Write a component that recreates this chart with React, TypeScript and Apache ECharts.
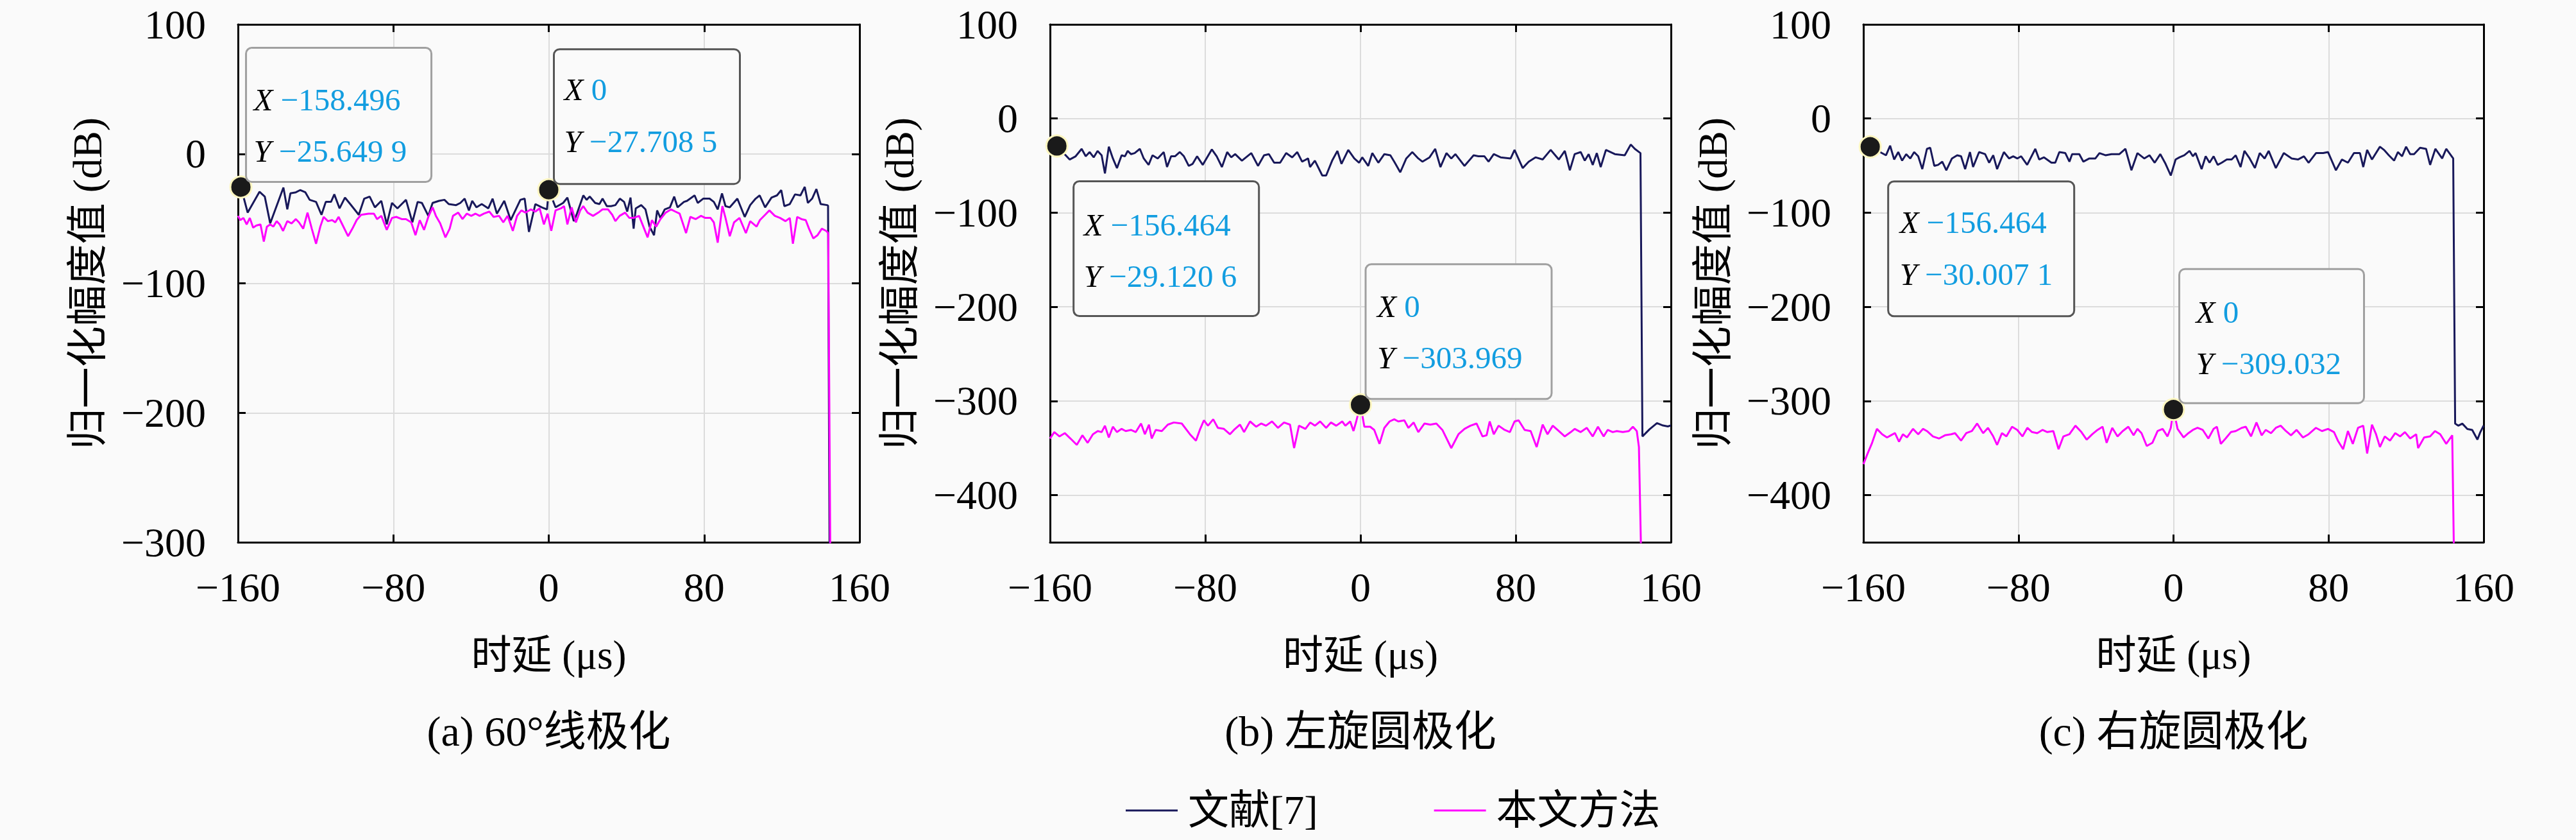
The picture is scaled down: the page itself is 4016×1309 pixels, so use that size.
import { useEffect, useRef } from "react";
import * as echarts from "echarts";

const SERIF = '"Liberation Serif", "Noto Sans CJK SC", serif';
const NAVY = "#18185a";
const MAGENTA = "#ff00ff";
const TIP_BLUE = "#129de0";

const seriesNames = ["文献[7]", "本文方法"];
const panelTitles = ["(a) 60°线极化", "(b) 左旋圆极化", "(c) 右旋圆极化"];
const yLabel = "归一化幅度值 (dB)";
const xLabel = "时延 (μs)";
const xRange = [-160, 160];
const xStep = 80;
const yMaxes = [100, 100, 100];
const yMins = [-300, -450, -450];

// (a) 60° linear polarisation: [delay μs, dB]
const refA: [number, number][] = [
  [-158.496, -25.6499], [-155.0, -45.4], [-148.9, -29.3], [-146.2, -33.0], [-143.4, -53.7], [-136.6, -26.0],
  [-134.6, -42.9], [-133.0, -30.5], [-130.2, -29.7], [-128.0, -28.0], [-125.3, -29.7], [-123.1, -35.5],
  [-119.8, -37.1], [-117.0, -47.1], [-114.8, -37.1], [-112.1, -37.1], [-110.4, -31.3], [-107.7, -42.1],
  [-104.9, -33.8], [-102.2, -38.8], [-97.8, -47.1], [-95.0, -34.6], [-92.2, -33.0], [-89.5, -41.3],
  [-86.2, -36.3], [-83.4, -54.5], [-80.7, -37.9], [-77.9, -42.1], [-75.7, -38.8], [-73.5, -35.5],
  [-70.2, -52.9], [-67.5, -37.1], [-65.3, -37.9], [-62.0, -47.9], [-59.8, -37.9], [-56.5, -36.3],
  [-53.7, -35.5], [-51.5, -38.8], [-47.7, -39.6], [-45.5, -37.9], [-43.3, -34.6], [-41.1, -43.7],
  [-39.4, -36.3], [-37.2, -41.3], [-34.5, -38.8], [-31.1, -42.1], [-28.9, -34.6], [-26.7, -46.2],
  [-22.9, -36.3], [-19.6, -51.2], [-14.6, -35.5], [-12.4, -34.6], [-10.2, -60.3], [-6.9, -38.8],
  [-3.6, -41.3], [-0.9, -42.9], [0, -27.7085], [3.5, -41.3], [7.4, -37.9], [9.6, -33.8], [12.9, -52.0],
  [14.5, -46.2], [17.8, -32.1], [19.5, -35.5], [21.1, -33.0], [23.9, -37.9], [26.1, -38.8], [27.7, -34.6],
  [29.9, -40.4], [32.1, -40.4], [34.3, -39.6], [36.6, -34.6], [38.8, -37.1], [40.4, -44.6], [42.1, -33.8],
  [43.7, -57.8], [44.8, -42.1], [47.6, -39.6], [49.8, -42.9], [51.9, -56.2], [54.2, -62.8], [55.8, -43.7],
  [57.5, -49.5], [59.7, -42.9], [62.4, -41.3], [64.6, -33.0], [66.3, -41.3], [69.6, -37.1], [71.2, -36.3],
  [75.1, -32.1], [76.7, -37.9], [79.5, -34.6], [82.8, -34.6], [85.0, -37.1], [87.0, -42.9], [89.2, -30.5],
  [91.0, -40.4], [93.2, -41.3], [97.1, -34.6], [100.9, -48.7], [103.7, -39.6], [106.5, -34.6], [108.6, -32.1],
  [111.4, -41.3], [114.7, -33.8], [117.5, -32.1], [119.7, -28.0], [121.3, -40.4], [124.1, -38.8], [126.8, -31.3],
  [129.6, -32.1], [131.8, -25.5], [133.4, -37.9], [135.6, -34.6], [137.8, -27.2], [140.0, -38.8], [143.3, -39.6],
  [143.8, -40.0], [144.6, -320],
];
const oursA: [number, number][] = [
  [-160, -47.9], [-158.8, -51.2], [-157.2, -49.5], [-155.5, -54.5], [-153.9, -49.5], [-152.2, -57.0],
  [-150.6, -55.4], [-148.4, -54.5], [-146.7, -67.8], [-145.1, -56.2], [-143.4, -54.5], [-141.8, -56.2],
  [-140.1, -52.0], [-138.5, -54.5], [-136.8, -59.5], [-134.6, -52.0], [-132.4, -53.7], [-130.2, -50.4],
  [-128.6, -52.9], [-126.4, -57.8], [-124.2, -45.4], [-122.0, -57.8], [-119.8, -69.4], [-117.6, -56.2],
  [-115.9, -48.7], [-113.7, -52.0], [-111.5, -51.2], [-109.9, -52.9], [-108.2, -48.7], [-106.0, -55.4],
  [-103.3, -63.6], [-101.1, -57.8], [-98.9, -51.2], [-96.6, -47.1], [-92.8, -46.2], [-90.0, -46.2],
  [-88.4, -50.4], [-86.2, -47.9], [-83.4, -58.7], [-80.7, -49.5], [-78.5, -48.7], [-75.7, -50.4],
  [-73.5, -50.4], [-70.8, -52.9], [-68.6, -62.8], [-66.4, -51.2], [-64.2, -58.7], [-62.0, -48.7],
  [-59.8, -41.3], [-58.1, -47.9], [-55.9, -53.7], [-53.2, -64.5], [-51.0, -57.8], [-49.3, -47.9],
  [-46.6, -45.4], [-44.4, -50.4], [-42.2, -46.2], [-39.9, -47.9], [-37.7, -46.2], [-35.6, -47.9],
  [-33.4, -46.2], [-30.6, -44.6], [-28.4, -48.7], [-25.6, -47.9], [-23.4, -52.9], [-21.2, -47.9],
  [-18.5, -59.5], [-16.3, -47.9], [-14.1, -43.7], [-11.9, -45.4], [-9.2, -42.9], [-6.9, -44.6],
  [-4.7, -42.1], [-2.5, -54.5], [-0.6, -46.2], [1.3, -59.5], [3.5, -43.7], [6.3, -42.1], [7.9, -40.4],
  [9.6, -54.5], [11.8, -41.3], [14.0, -52.9], [16.2, -43.7], [17.8, -40.4], [20.0, -45.4], [22.8, -47.9],
  [25.5, -45.4], [27.7, -42.9], [30.5, -42.9], [32.7, -47.1], [34.3, -52.0], [36.5, -47.9], [39.3, -45.4],
  [41.5, -49.5], [43.7, -49.5], [46.5, -47.9], [48.7, -56.2], [50.9, -64.5], [53.1, -51.2], [55.3, -56.2],
  [57.5, -50.4], [60.2, -45.4], [63.0, -42.9], [65.2, -44.6], [67.4, -46.2], [70.7, -61.2], [72.9, -48.7],
  [75.6, -50.4], [78.4, -47.9], [80.6, -49.5], [83.3, -49.5], [85.0, -52.9], [87.0, -68.6], [89.4, -40.4],
  [91.0, -49.5], [93.2, -63.6], [95.4, -52.9], [98.2, -49.5], [101.5, -61.2], [103.7, -52.0], [107.0, -56.2],
  [108.7, -51.2], [111.4, -47.1], [113.6, -43.7], [116.4, -47.9], [119.1, -49.5], [121.9, -52.0],
  [124.1, -49.5], [125.7, -69.4], [127.9, -48.7], [130.1, -50.4], [132.3, -51.2], [134.0, -57.8],
  [136.2, -65.3], [138.4, -62.8], [140.6, -57.8], [142.8, -59.5], [143.9, -61.2], [145.0, -320],
];

// (b) left-hand circular polarisation
const refB: [number, number][] = [
  [-156.464, -29.1206], [-149.9, -43.5], [-146.8, -40.1], [-143.7, -32.2], [-141.6, -40.1], [-139.6, -35.6],
  [-137.5, -41.2], [-135.5, -34.4], [-133.4, -39.0], [-131.7, -58.3], [-129.7, -29.9], [-127.6, -42.4],
  [-125.5, -52.6], [-123.1, -39.0], [-121.4, -40.1], [-120.0, -34.4], [-118.3, -37.8], [-116.4, -36.7],
  [-113.7, -32.2], [-111.7, -42.4], [-109.2, -49.2], [-107.2, -39.0], [-104.5, -42.4], [-101.4, -35.6],
  [-99.7, -51.5], [-97.6, -40.1], [-95.6, -40.1], [-93.1, -35.6], [-91.0, -40.1], [-88.5, -50.3],
  [-86.5, -48.1], [-84.2, -40.1], [-81.3, -49.2], [-76.6, -32.8], [-74.1, -40.1], [-71.4, -51.5],
  [-68.7, -35.6], [-66.6, -41.2], [-64.6, -37.8], [-61.1, -44.7], [-56.3, -36.7], [-52.8, -50.3],
  [-49.7, -39.0], [-47.2, -37.8], [-44.5, -46.9], [-41.4, -46.9], [-38.3, -36.7], [-35.2, -41.2],
  [-32.6, -35.6], [-30.1, -45.8], [-27.0, -42.4], [-26.0, -51.5], [-23.5, -44.7], [-19.7, -60.5],
  [-17.7, -60.5], [-14.6, -44.7], [-11.9, -34.4], [-9.8, -48.1], [-6.3, -33.3], [-3.2, -42.4],
  [-0.7, -46.9], [0.9, -41.2], [4.0, -50.3], [6.1, -36.7], [9.2, -46.9], [12.3, -37.8], [15.4, -39.0],
  [17.4, -45.8], [20.5, -57.1], [23.6, -42.4], [26.7, -35.6], [29.8, -42.4], [31.9, -45.8], [35.6, -41.2],
  [38.5, -32.2], [41.2, -51.5], [44.3, -36.7], [46.8, -42.4], [48.9, -37.8], [53.6, -50.3], [58.3, -39.0],
  [60.8, -40.1], [63.9, -40.1], [66.0, -45.8], [68.7, -37.8], [72.2, -41.2], [77.4, -42.4], [79.4, -33.3],
  [83.6, -52.6], [86.7, -45.8], [90.2, -41.2], [93.9, -43.5], [98.0, -33.3], [102.2, -43.5], [105.3, -34.4],
  [107.9, -54.9], [110.4, -37.8], [113.5, -35.6], [115.6, -44.7], [117.6, -37.8], [119.7, -49.2],
  [121.8, -36.7], [123.8, -51.5], [126.5, -33.3], [131.1, -37.8], [136.2, -39.0], [139.3, -27.6],
  [141.4, -32.2], [144.3, -36.7], [145.3, -337.6], [149.0, -330.0], [152.8, -323.5], [155.9, -326.0],
  [158.4, -327.0], [160, -326.0],
];
const oursB: [number, number][] = [
  [-160, -339.8], [-157.8, -333.0], [-155.1, -337.6], [-152.4, -334.1], [-149.5, -339.8], [-146.2, -346.6],
  [-143.3, -336.4], [-140.6, -344.4], [-137.9, -335.3], [-135.4, -331.9], [-133.4, -333.0], [-131.7, -326.2],
  [-129.7, -338.7], [-127.6, -327.3], [-125.5, -333.0], [-123.1, -329.6], [-121.0, -331.9], [-118.3, -330.7],
  [-115.8, -333.0], [-113.1, -323.9], [-111.1, -335.3], [-109.0, -325.1], [-107.6, -339.8], [-105.5, -330.7],
  [-102.4, -331.9], [-99.3, -325.1], [-96.2, -322.8], [-92.1, -323.9], [-87.9, -335.3], [-84.8, -342.1],
  [-82.8, -330.7], [-80.7, -320.5], [-78.6, -326.2], [-75.9, -319.4], [-73.5, -328.5], [-70.4, -329.6],
  [-67.3, -335.3], [-65.2, -330.7], [-62.1, -325.1], [-60.0, -333.0], [-56.9, -321.7], [-53.8, -327.3],
  [-51.2, -323.9], [-48.7, -326.2], [-45.6, -321.7], [-42.5, -328.5], [-39.4, -322.8], [-36.3, -325.1],
  [-34.2, -350.0], [-31.7, -326.2], [-28.4, -329.6], [-25.9, -322.8], [-23.5, -326.2], [-20.8, -321.7],
  [-17.7, -328.5], [-15.2, -322.8], [-12.5, -326.2], [-9.4, -321.7], [-7.8, -326.2], [-5.3, -321.7],
  [-3.6, -331.9], [-2.2, -321.7], [0, -303.969], [2.0, -327.3], [5.0, -327.3], [7.1, -330.7], [9.8, -345.5],
  [12.3, -328.5], [15.0, -321.7], [17.4, -319.4], [19.5, -321.7], [22.6, -320.5], [24.7, -328.5],
  [27.4, -322.8], [29.8, -333.0], [33.0, -323.9], [36.0, -325.1], [39.1, -323.9], [42.2, -330.7],
  [46.8, -350.0], [50.5, -335.3], [53.6, -329.6], [56.7, -326.2], [59.8, -323.9], [62.9, -337.6],
  [65.0, -336.4], [66.6, -321.7], [68.7, -335.3], [71.2, -326.2], [74.3, -330.7], [77.0, -333.0],
  [79.4, -321.7], [81.5, -320.5], [84.6, -330.7], [87.7, -331.9], [90.8, -348.9], [93.9, -325.1],
  [96.4, -335.3], [99.1, -326.2], [102.2, -331.9], [105.3, -337.6], [108.4, -333.0], [110.4, -329.6],
  [113.5, -333.0], [116.6, -328.5], [119.7, -337.6], [122.4, -327.3], [125.3, -337.6], [127.4, -330.7],
  [130.0, -333.0], [132.1, -331.9], [135.2, -333.0], [138.3, -331.9], [140.4, -327.3], [142.4, -331.9],
  [143.5, -348.9], [144.8, -480],
];

// (c) right-hand circular polarisation
const refC: [number, number][] = [
  [-156.464, -30.0071], [-148.3, -39.0], [-146.2, -28.8], [-144.1, -43.5], [-142.0, -35.6], [-140.0, -44.7],
  [-137.9, -37.8], [-135.8, -42.4], [-133.8, -35.6], [-131.7, -40.1], [-129.6, -53.7], [-127.2, -32.2],
  [-125.5, -31.0], [-123.4, -50.3], [-121.4, -49.2], [-119.3, -45.8], [-117.2, -54.9], [-114.3, -42.4],
  [-111.6, -39.0], [-109.6, -40.1], [-107.5, -53.7], [-105.0, -35.6], [-103.4, -51.5], [-100.3, -35.6],
  [-97.2, -37.8], [-95.1, -46.9], [-93.0, -39.0], [-91.0, -53.7], [-87.5, -35.6], [-84.8, -42.4],
  [-82.7, -40.1], [-80.6, -42.4], [-78.6, -40.1], [-75.5, -49.2], [-71.3, -32.2], [-69.3, -43.5],
  [-66.8, -41.2], [-63.0, -46.9], [-61.0, -46.9], [-58.9, -35.6], [-55.8, -36.7], [-53.7, -45.8],
  [-52.3, -37.8], [-48.6, -37.8], [-46.5, -45.8], [-43.4, -42.4], [-40.3, -42.4], [-38.2, -36.7],
  [-35.1, -39.0], [-32.0, -37.8], [-27.9, -37.8], [-24.8, -32.2], [-21.7, -54.9], [-18.6, -36.7],
  [-15.1, -42.4], [-12.4, -39.0], [-9.7, -46.9], [-6.8, -37.8], [-4.1, -48.1], [-1.4, -60.5], [1.1, -43.5],
  [3.1, -41.2], [5.6, -39.0], [8.3, -34.4], [10.0, -40.1], [11.4, -36.7], [14.5, -53.7], [16.6, -40.1],
  [18.6, -46.9], [20.7, -40.1], [22.8, -49.2], [24.9, -46.9], [27.5, -43.5], [30.0, -43.5], [32.1, -39.0],
  [34.6, -51.5], [36.6, -34.4], [39.3, -42.4], [42.0, -52.6], [44.5, -36.7], [47.0, -42.4], [49.1, -34.4],
  [52.8, -52.6], [56.9, -36.7], [61.0, -42.4], [64.2, -43.5], [67.3, -40.1], [69.7, -46.9], [73.5, -36.7],
  [77.2, -36.7], [79.7, -35.6], [83.8, -54.9], [86.9, -43.5], [90.0, -46.9], [93.1, -36.7], [96.2, -36.7],
  [97.9, -51.5], [99.9, -33.3], [102.4, -43.5], [106.5, -29.9], [108.6, -33.3], [111.1, -39.0],
  [113.8, -44.7], [115.8, -35.6], [117.9, -40.1], [120.0, -29.9], [122.1, -37.8], [124.1, -37.8],
  [127.2, -31.0], [130.3, -32.2], [132.4, -49.2], [135.1, -32.2], [138.6, -42.4], [140.7, -32.2],
  [144.3, -42.4], [145.3, -324.0], [146.9, -326.2], [149.0, -324.0], [151.6, -329.7], [154.1, -330.7],
  [156.8, -341.0], [158.3, -333.0], [160, -326.0],
];
const oursC: [number, number][] = [
  [-160, -367.1], [-157.8, -355.7], [-155.7, -345.5], [-153.0, -329.6], [-150.3, -335.3], [-147.8, -338.7],
  [-145.8, -336.4], [-143.7, -334.1], [-141.6, -343.2], [-139.6, -335.3], [-137.5, -338.7], [-134.4, -329.6],
  [-131.7, -335.3], [-129.2, -329.6], [-127.2, -331.9], [-124.1, -337.6], [-120.9, -339.8], [-117.9, -336.4],
  [-114.7, -335.3], [-112.7, -334.1], [-109.6, -342.1], [-106.9, -334.1], [-104.0, -331.9], [-101.3, -323.9],
  [-98.2, -334.1], [-95.7, -328.5], [-93.0, -337.6], [-91.0, -346.6], [-88.5, -334.1], [-86.2, -337.6],
  [-83.3, -327.3], [-80.6, -330.7], [-77.9, -337.6], [-75.4, -328.5], [-73.0, -333.0], [-70.3, -334.1],
  [-67.6, -330.7], [-65.1, -333.0], [-62.0, -331.9], [-59.3, -351.2], [-56.8, -337.6], [-53.7, -335.3],
  [-50.6, -326.2], [-47.5, -333.0], [-44.8, -341.0], [-41.9, -335.3], [-39.2, -330.7], [-36.6, -327.3],
  [-34.5, -344.4], [-31.6, -328.5], [-28.9, -337.6], [-26.2, -331.9], [-23.3, -327.3], [-20.6, -336.4],
  [-18.6, -329.6], [-16.5, -334.1], [-13.8, -347.8], [-10.9, -344.4], [-8.2, -331.9], [-5.6, -329.6],
  [-3.1, -337.6], [-1.4, -328.5], [0, -309.032], [2.1, -329.6], [5.2, -338.7], [7.7, -334.1], [10.0, -330.7],
  [12.4, -328.5], [15.1, -330.7], [18.0, -339.8], [20.7, -329.6], [22.4, -327.3], [24.4, -345.5],
  [26.9, -339.8], [29.6, -333.0], [32.1, -331.9], [35.2, -328.5], [37.3, -327.3], [40.0, -337.6],
  [42.8, -322.8], [45.5, -336.4], [47.6, -330.7], [50.3, -334.1], [52.8, -328.5], [55.3, -326.2],
  [58.0, -331.9], [60.6, -336.4], [63.5, -330.7], [66.8, -338.7], [69.7, -335.3], [73.5, -328.5],
  [76.6, -331.9], [79.7, -329.6], [82.8, -333.0], [84.8, -342.1], [87.5, -351.2], [90.0, -331.9],
  [92.5, -345.5], [95.2, -328.5], [97.9, -326.2], [99.9, -355.7], [102.4, -325.1], [104.5, -335.3],
  [106.5, -348.9], [109.0, -337.6], [111.7, -342.1], [114.4, -334.1], [116.9, -337.6], [119.4, -333.0],
  [122.1, -339.8], [125.2, -335.3], [126.2, -350.0], [129.3, -338.7], [132.4, -337.6], [134.9, -331.9],
  [137.6, -335.3], [140.7, -345.5], [143.8, -336.4], [144.8, -480],
];

// data tips: point and the text shown in the tip
const tipsA = [
  { x: -158.496, y: -25.6499, xText: "−158.496", yText: "−25.649 9" },
  { x: 0, y: -27.7085, xText: "0", yText: "−27.708 5" },
];
const tipsB = [
  { x: -156.464, y: -29.1206, xText: "−156.464", yText: "−29.120 6" },
  { x: 0, y: -303.969, xText: "0", yText: "−303.969" },
];
const tipsC = [
  { x: -156.464, y: -30.0071, xText: "−156.464", yText: "−30.007 1" },
  { x: 0, y: -309.032, xText: "0", yText: "−309.032" },
];

// layout (pixels)
const GRID_LEFTS = [371, 1637, 2905];
const GRID_WIDTHS = [969, 968, 967];
const GRID_TOP = 38;
const GRID_HEIGHT = 807;
const tipBoxes = [
  [
    { dx: 8, dy: -217, w: 289, h: 209, row1: 81, row2: 161, pad: 12, dark: false },
    { dx: 8, dy: -219, w: 290, h: 210, row1: 63, row2: 144, pad: 16, dark: true },
  ],
  [
    { dx: 26, dy: 55, w: 289, h: 210, row1: 68, row2: 148, pad: 16, dark: true },
    { dx: 8, dy: -219, w: 290, h: 210, row1: 66, row2: 146, pad: 18, dark: false },
  ],
  [
    { dx: 28, dy: 54, w: 290, h: 210, row1: 64, row2: 145, pad: 18, dark: true },
    { dx: 9, dy: -219, w: 288, h: 209, row1: 67, row2: 147, pad: 26, dark: false },
  ],
];

const panels = [
  { ref: refA, ours: oursA, tips: tipsA },
  { ref: refB, ours: oursB, tips: tipsB },
  { ref: refC, ours: oursC, tips: tipsC },
];

const minus = (v: number) => (v < 0 ? "−" + Math.abs(v) : String(v));

function buildOption() {
  const grid: any[] = [];
  const xAxis: any[] = [];
  const yAxis: any[] = [];
  const series: any[] = [];

  const line = { show: true, onZero: false, lineStyle: { color: "#000", width: 3 } };
  const tick = { show: true, inside: true, length: 12, lineStyle: { color: "#000", width: 3 } };

  panels.forEach((p, i) => {
    grid.push({ left: GRID_LEFTS[i], top: GRID_TOP, width: GRID_WIDTHS[i], height: GRID_HEIGHT, containLabel: false });
    xAxis.push(
      {
        gridIndex: i, type: "value", position: "bottom", min: xRange[0], max: xRange[1], interval: xStep,
        axisLine: line, axisTick: tick,
        axisLabel: { margin: 38, fontSize: 64, fontFamily: SERIF, color: "#000", formatter: minus },
        splitLine: { show: true, lineStyle: { color: "#dcdcdc", width: 2 } },
        name: xLabel, nameLocation: "middle", nameGap: 144,
        nameTextStyle: { fontSize: 63, fontFamily: SERIF, color: "#000" },
      },
      {
        gridIndex: i, type: "value", position: "top", min: xRange[0], max: xRange[1], interval: xStep,
        axisLine: line, axisTick: tick, axisLabel: { show: false }, splitLine: { show: false },
      }
    );
    const yBase: any = { gridIndex: i, type: "value", min: yMins[i], max: yMaxes[i] };
    if (yMins[i] % 100 === 0) yBase.interval = 100;
    yAxis.push(
      {
        ...yBase, position: "left",
        axisLine: line, axisTick: tick,
        axisLabel: {
          margin: 50, fontSize: 64, fontFamily: SERIF, color: "#000", formatter: minus,
          showMinLabel: yMins[i] % 100 === 0,
        },
        splitLine: { show: true, lineStyle: { color: "#dcdcdc", width: 2 } },
        name: yLabel, nameLocation: "middle", nameGap: 203, nameRotate: 90,
        nameTextStyle: { fontSize: 64, fontFamily: SERIF, color: "#000" },
      },
      {
        ...yBase, position: "right",
        axisLine: line, axisTick: tick, axisLabel: { show: false }, splitLine: { show: false },
      }
    );
    series.push(
      {
        name: seriesNames[0], type: "line", xAxisIndex: 2 * i, yAxisIndex: 2 * i,
        data: p.ref, symbol: "none", showSymbol: false, clip: true,
        lineStyle: { color: NAVY, width: 3 }, itemStyle: { color: NAVY }, z: 2,
      },
      {
        name: seriesNames[1], type: "line", xAxisIndex: 2 * i, yAxisIndex: 2 * i,
        data: p.ours, symbol: "none", showSymbol: false, clip: true,
        lineStyle: { color: MAGENTA, width: 3 }, itemStyle: { color: MAGENTA }, z: 3,
      },
      {
        name: "tip", type: "scatter", xAxisIndex: 2 * i, yAxisIndex: 2 * i,
        data: p.tips.map((t) => [t.x, t.y]), symbolSize: 33, silent: true, z: 5,
        itemStyle: { color: "#1a1a1a", borderColor: "#fdf6c0", borderWidth: 3, opacity: 1 },
      }
    );
  });

  return {
    animation: false,
    backgroundColor: "#fafafa",
    grid,
    xAxis,
    yAxis,
    series,
    legend: {
      data: seriesNames,
      left: 1750,
      top: 1226,
      icon: "rect",
      itemWidth: 81,
      itemHeight: 3,
      itemGap: 181,
      selectedMode: false,
      textStyle: { fontSize: 64, fontFamily: SERIF, color: "#000", padding: [0, 0, 0, 11] },
    },
  };
}

export default function App() {
  const ref = useRef<HTMLDivElement>(null);

  useEffect(() => {
    document.body.style.margin = "0";
    if (!ref.current) return;
    const chart = echarts.init(ref.current, null, { renderer: "svg" });
    chart.setOption(buildOption());

    const tipText = {
      k: { fontStyle: "italic", fontSize: 49, fontFamily: SERIF, fill: "#000", color: "#000" },
      v: { fontSize: 49, fontFamily: SERIF, fill: TIP_BLUE, color: TIP_BLUE },
    };
    const graphic: any[] = [];
    panels.forEach((p, i) => {
      p.tips.forEach((tip, j) => {
        const pt = chart.convertToPixel({ seriesIndex: 3 * i + 2 }, [tip.x, tip.y]) as number[];
        const b = tipBoxes[i][j];
        const bx = pt[0] + b.dx;
        const by = pt[1] + b.dy;
        graphic.push(
          {
            type: "rect", z: 100,
            shape: { x: bx, y: by, width: b.w, height: b.h, r: 9 },
            style: { fill: "#fafafa", stroke: b.dark ? "#555" : "#a0a0a0", lineWidth: 3 },
          },
          {
            type: "text", z: 101, x: bx + b.pad, y: by + b.row1,
            style: { text: `{k|X} {v|${tip.xText}}`, rich: tipText, verticalAlign: "middle", align: "left", fontSize: 49, fontFamily: SERIF },
          },
          {
            type: "text", z: 101, x: bx + b.pad, y: by + b.row2,
            style: { text: `{k|Y} {v|${tip.yText}}`, rich: tipText, verticalAlign: "middle", align: "left", fontSize: 49, fontFamily: SERIF },
          }
        );
      });
      graphic.push({
        type: "text", z: 10,
        x: GRID_LEFTS[i] + GRID_WIDTHS[i] / 2, y: 1139,
        style: { text: panelTitles[i], fontSize: 66, fontFamily: SERIF, fill: "#000", align: "center", verticalAlign: "middle" },
      });
    });
    chart.setOption({ graphic });

    return () => {
      chart.dispose();
    };
  }, []);

  return <div ref={ref} style={{ width: "4016px", height: "1309px", background: "#fafafa" }} />;
}
